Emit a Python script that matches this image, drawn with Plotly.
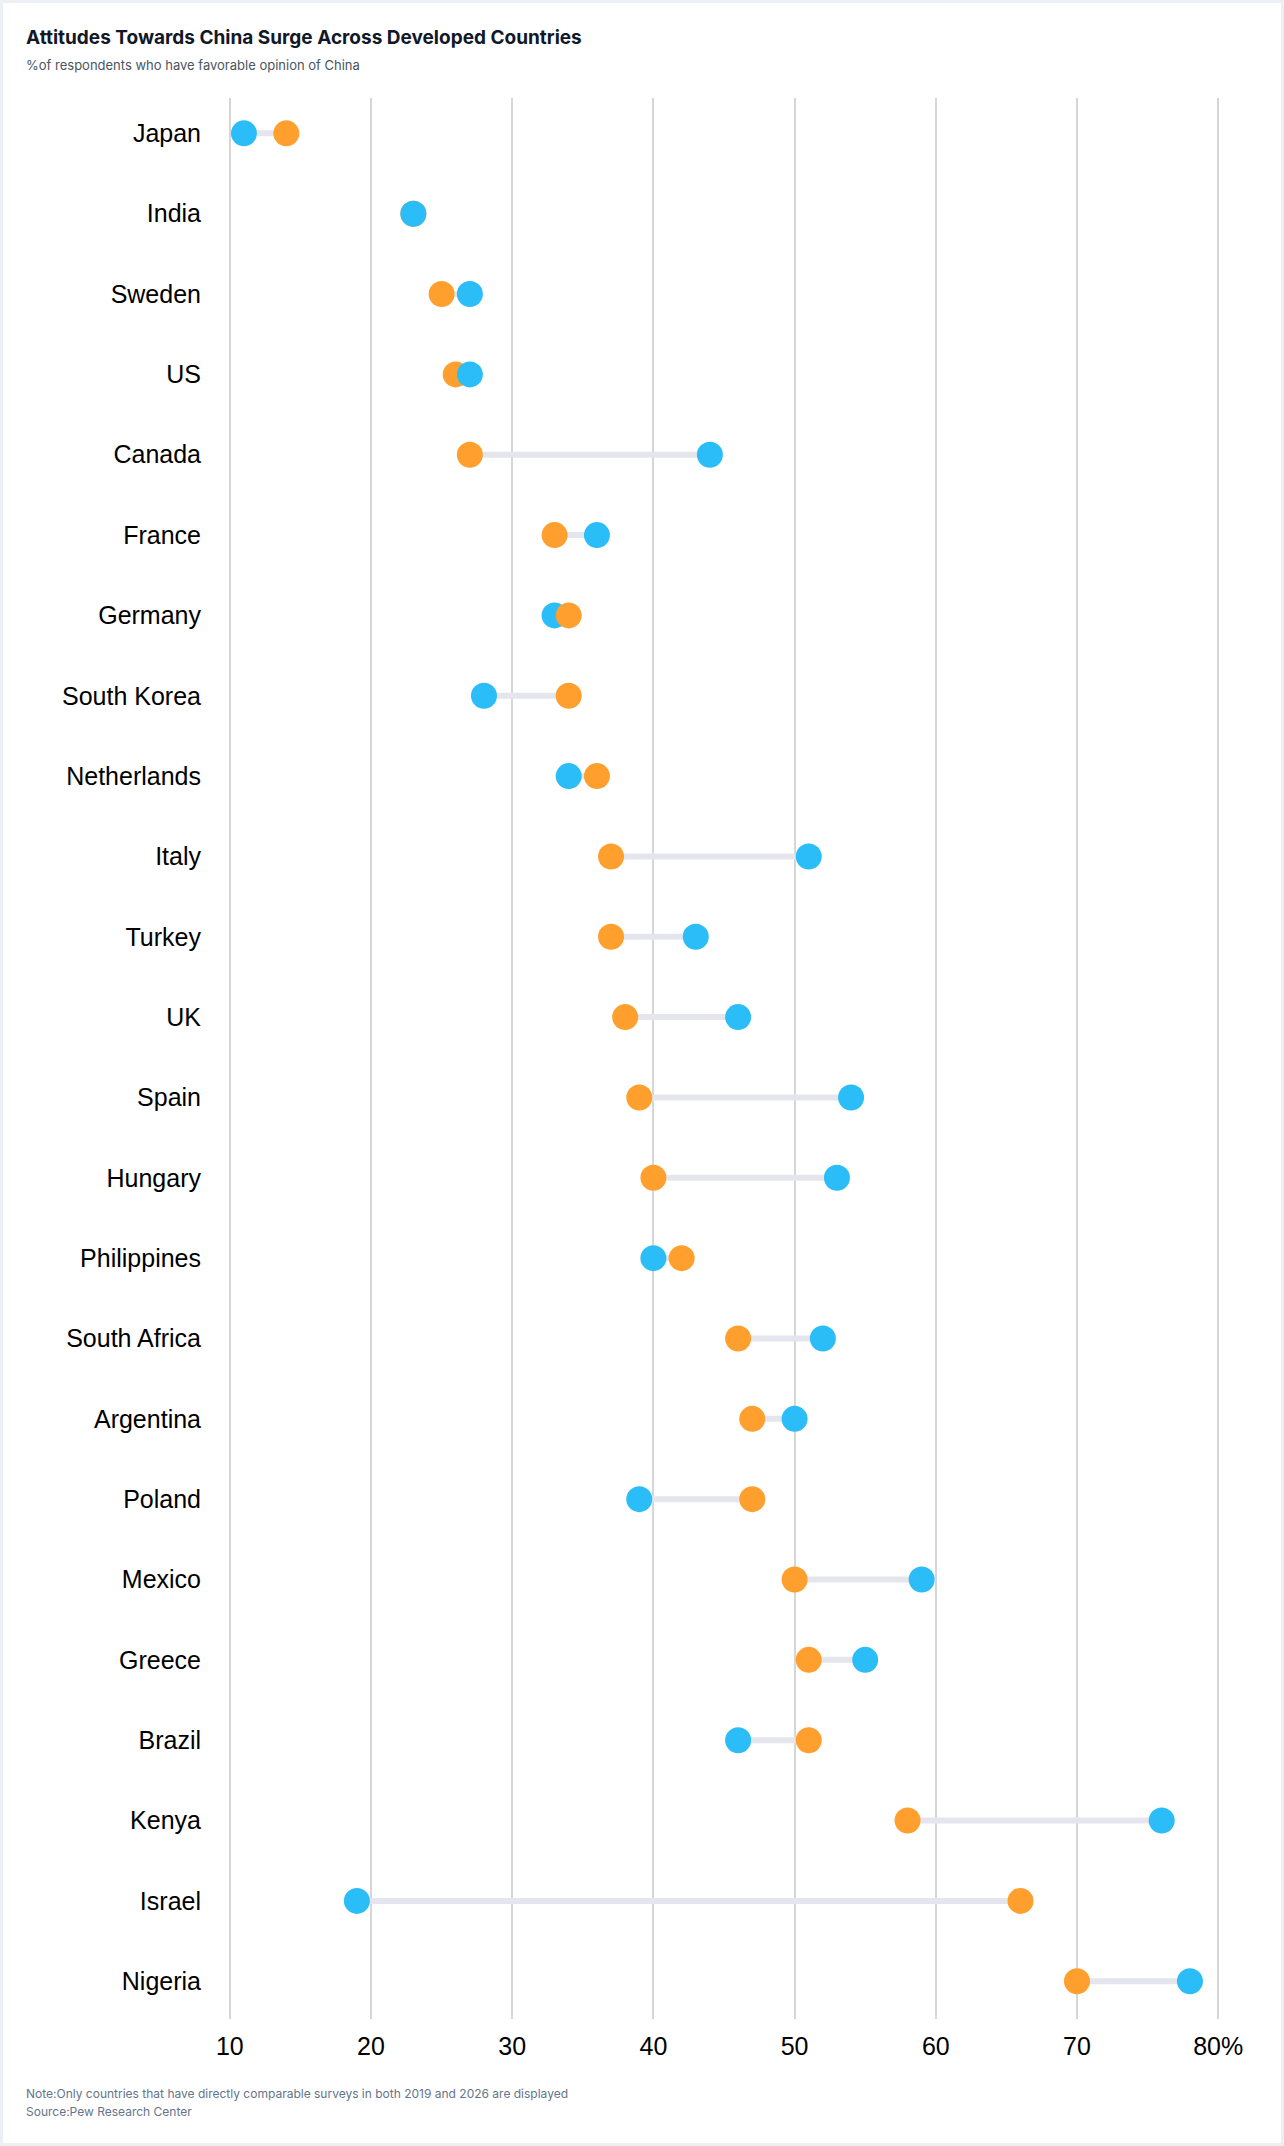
import plotly.graph_objects as go

# Favorable opinion of China, % of respondents
countries = ["Japan", "India", "Sweden", "US", "Canada", "France", "Germany",
             "South Korea", "Netherlands", "Italy", "Turkey", "UK", "Spain",
             "Hungary", "Philippines", "South Africa", "Argentina", "Poland",
             "Mexico", "Greece", "Brazil", "Kenya", "Israel", "Nigeria"]
y2019 = [14, 23, 25, 26, 27, 33, 34, 34, 36, 37, 37, 38, 39, 40, 42, 46, 47, 47,
         50, 51, 51, 58, 66, 70]
y2026 = [11, 23, 27, 27, 44, 36, 33, 28, 34, 51, 43, 46, 54, 53, 40, 52, 50, 39,
         59, 55, 46, 76, 19, 78]
tick_vals = [10, 20, 30, 40, 50, 60, 70, 80]
tick_text = ["10", "20", "30", "40", "50", "60", "70", "80%"]

ORANGE = "#FFA02E"
BLUE = "#2BBDF8"

W, H = 1284, 2146
L, R, T, B = 227, 63, 98, 127
pw = W - L - R
ph = H - T - B

# connector lines between the two years
lx, ly = [], []
for c, a, b in zip(countries, y2019, y2026):
    lx += [a, b, None]
    ly += [c, c, None]

# the dot further right is drawn on top
left_x, left_c, right_x, right_c = [], [], [], []
for a, b in zip(y2019, y2026):
    if b < a:
        left_x.append(b); left_c.append(BLUE)
        right_x.append(a); right_c.append(ORANGE)
    else:
        left_x.append(a); left_c.append(ORANGE)
        right_x.append(b); right_c.append(BLUE)

fig = go.Figure()
fig.add_trace(go.Scatter(x=lx, y=ly, mode="lines",
                         line=dict(color="#E5E5ED", width=6),
                         hoverinfo="skip", showlegend=False))
fig.add_trace(go.Scatter(x=left_x, y=countries, mode="markers",
                         marker=dict(color=left_c, size=26, line=dict(width=0)),
                         cliponaxis=False, showlegend=False))
fig.add_trace(go.Scatter(x=right_x, y=countries, mode="markers",
                         marker=dict(color=right_c, size=26, line=dict(width=0)),
                         cliponaxis=False, showlegend=False))

fig.update_xaxes(range=[9.8, 80.2], tickvals=tick_vals, ticktext=tick_text,
                 showgrid=True, gridcolor="#D6D6D6", gridwidth=2,
                 zeroline=False, showline=False, ticks="",
                 ticklabelstandoff=10,
                 tickfont=dict(family="Liberation Sans, Arial", size=25, color="#000000"))
fig.update_yaxes(categoryorder="array", categoryarray=countries,
                 autorange=False, range=[len(countries) - 0.53, -0.44],
                 showgrid=False, zeroline=False, showline=False, ticks="",
                 ticklabelstandoff=25,
                 tickfont=dict(family="Liberation Sans, Arial", size=25, color="#000000"))


def px_x(p):
    return (p - L) / pw


def px_y(p):
    return 1 - (p - T) / ph


annos = [
    dict(text="<b>Attitudes Towards China Surge Across Developed Countries</b>",
         x=px_x(24), y=px_y(37), font=dict(family="Inter", size=19, color="#111827")),
    dict(text="%of respondents who have favorable opinion of China",
         x=px_x(24), y=px_y(65), font=dict(family="Inter", size=13, color="#4B5563")),
    dict(text="Note:Only countries that have directly comparable surveys in both 2019 and 2026 are displayed",
         x=px_x(24), y=px_y(2093), font=dict(family="Inter", size=12, color="#64748B")),
    dict(text="Source:Pew Research Center",
         x=px_x(24), y=px_y(2111), font=dict(family="Inter", size=12, color="#64748B")),
]
for a in annos:
    fig.add_annotation(xref="paper", yref="paper", xanchor="left", yanchor="middle",
                       showarrow=False, align="left", **a)

# light card border around the page
fig.add_shape(type="rect", xref="paper", yref="paper",
              x0=px_x(1.5), x1=px_x(W - 1.5), y0=px_y(H - 1.5), y1=px_y(1.5),
              line=dict(color="#ECEFF3", width=3), layer="below")

fig.update_layout(width=W, height=H,
                  margin=dict(l=L, r=R, t=T, b=B),
                  paper_bgcolor="#FFFFFF", plot_bgcolor="#FFFFFF",
                  hovermode="closest")

fig.write_html("out.html", config={"displayModeBar": False},
               post_script="document.body.style.margin='0';")
